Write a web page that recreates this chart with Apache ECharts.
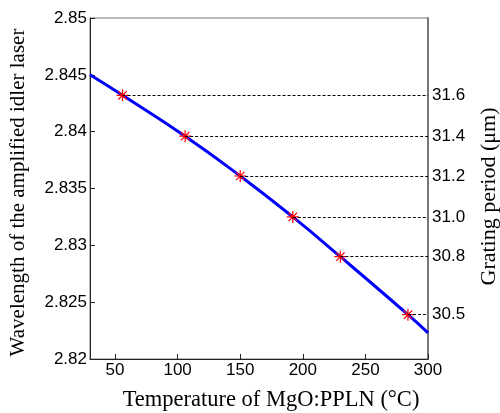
<!DOCTYPE html>
<html>
<head>
<meta charset="utf-8">
<script src="https://cdn.jsdelivr.net/npm/echarts@6/dist/echarts.min.js"></script>
<style>html,body{margin:0;padding:0;background:#fff}#c{width:500px;height:413px}</style>
</head>
<body>
<div id="c"></div>
<script>
// Curve: temperature (°C) vs idler wavelength (µm)
const curveT = [30, 56, 106, 150, 192, 230, 284, 300];
const curveW = [2.8450, 2.8432, 2.8396, 2.8361, 2.8325, 2.8290, 2.8239, 2.8223];
// Marked points (star) and their grating periods
const starT = [56, 106, 150, 192, 230, 284];
const starW = [2.8432, 2.8396, 2.8361, 2.8325, 2.8290, 2.8239];
const periods = ['31.6', '31.4', '31.2', '31.0', '30.8', '30.5'];
const xTicks = [50, 100, 150, 200, 250, 300];

const starPath = 'path://M-1,-10 L1,-10 L1,10 L-1,10 Z M-10,-1 L10,-1 L10,1 L-10,1 Z ' +
  'M-6.3,-7.7 L7.7,6.3 L6.3,7.7 L-7.7,-6.3 Z M6.3,-7.7 L7.7,-6.3 L-6.3,7.7 L-7.7,6.3 Z';

const chart = echarts.init(document.getElementById('c'), null, {renderer: 'canvas'});
const tickFont = {fontFamily: 'Liberation Sans, Arial, sans-serif', fontSize: 17, color: '#000'};
const serif = 'Liberation Serif, Times New Roman, serif';

chart.setOption({
  animation: false,
  grid: {left: 90, right: 72, top: 18, bottom: 54, show: true, borderColor: '#777', borderWidth: 1,
         containLabel: false, outerBoundsMode: 'none'},
  xAxis: {
    type: 'value', min: 30, max: 300,
    name: 'Temperature of MgO:PPLN (°C)', nameLocation: 'middle', nameGap: 30,
    nameTextStyle: {fontFamily: serif, fontSize: 22.5, color: '#000', padding: [0, 0, 0, 24]},
    axisLine: {show: true, lineStyle: {color: '#222', width: 1}},
    axisTick: {show: true, inside: true, length: 5, lineStyle: {color: '#222'}, customValues: xTicks},
    axisLabel: Object.assign({margin: 3, customValues: xTicks}, tickFont),
    splitLine: {show: false}
  },
  yAxis: [{
    type: 'value', min: 2.82, max: 2.85, interval: 0.005,
    name: 'Wavelength of the amplified idler laser', nameLocation: 'middle', nameGap: 61,
    nameTextStyle: {fontFamily: serif, fontSize: 21, color: '#000', padding: [0, 8, 0, 0]},
    axisLine: {show: true, lineStyle: {color: '#222', width: 1}},
    axisTick: {show: true, inside: true, length: 5, lineStyle: {color: '#222'}},
    axisLabel: Object.assign({margin: 3, formatter: v => String(parseFloat(v.toFixed(3)))}, tickFont),
    splitLine: {show: false}
  }, {
    type: 'value', min: 2.82, max: 2.85, position: 'right',
    name: 'Grating period (μm)', nameLocation: 'middle', nameGap: 50,
    nameRotate: 90,
    nameTextStyle: {fontFamily: serif, fontSize: 22, color: '#000', padding: [0, 16, 0, 0]},
    axisLine: {show: true, lineStyle: {color: '#777', width: 2}},
    axisTick: {show: false},
    axisLabel: Object.assign({margin: 4, customValues: starW, formatter: function (v) {
      let best = 0;
      for (let i = 0; i < starW.length; i++) if (Math.abs(starW[i] - v) < Math.abs(starW[best] - v)) best = i;
      return periods[best];
    }}, tickFont),
    splitLine: {show: false}
  }],
  series: [{
    type: 'line', data: curveT.map((t, i) => [t, curveW[i]]),
    smooth: true, showSymbol: false, lineStyle: {color: '#0000ff', width: 3}, z: 3,
    markLine: {
      silent: true, symbol: 'none', label: {show: false},
      lineStyle: {color: '#000', type: [3, 2], width: 1},
      data: starT.map((t, i) => [{coord: [t, starW[i]]}, {coord: [300, starW[i]]}])
    }
  }, {
    type: 'scatter', data: starT.map((t, i) => [t, starW[i]]),
    symbol: starPath, symbolSize: 12, itemStyle: {color: '#ff0000', opacity: 1}, z: 4
  }]
});
</script>
</body>
</html>
